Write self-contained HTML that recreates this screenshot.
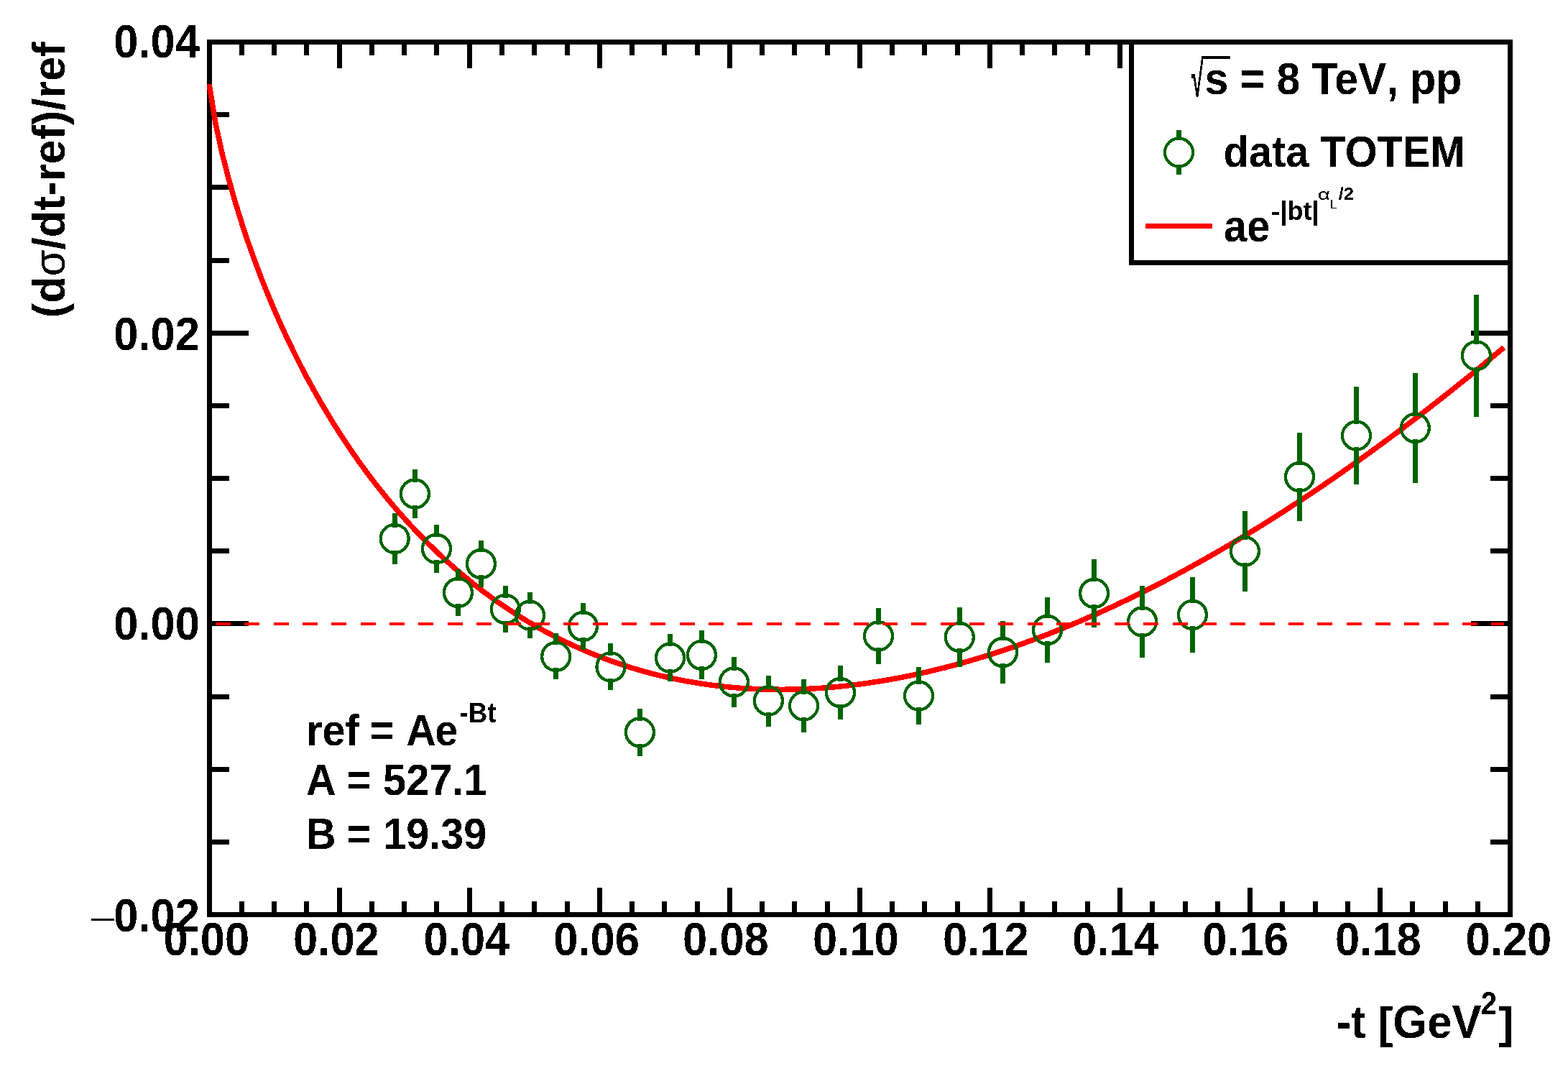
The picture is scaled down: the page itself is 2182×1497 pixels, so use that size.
<!DOCTYPE html>
<html lang="en"><head><meta charset="utf-8"><title>TOTEM 8 TeV pp: (dσ/dt-ref)/ref vs -t</title>
<style>
html,body{margin:0;padding:0;background:#fff;}
body{width:2182px;height:1497px;overflow:hidden;}
svg{display:block;}
text{white-space:pre;}
</style></head><body>
<svg width="2182" height="1497" viewBox="0 0 2182 1497">
<rect x="0" y="0" width="2182" height="1497" fill="#fff"/>
<g id="axes" shape-rendering="crispEdges" fill="#000">
<rect x="288" y="55" width="1817" height="7"/>
<rect x="288" y="1269" width="1817" height="7"/>
<rect x="288" y="55" width="7" height="1221"/>
<rect x="2098" y="55" width="7" height="1221"/>
<rect x="333" y="1254" width="7" height="15"/>
<rect x="333" y="62" width="7" height="15"/>
<rect x="378" y="1254" width="7" height="15"/>
<rect x="378" y="62" width="7" height="15"/>
<rect x="423" y="1254" width="7" height="15"/>
<rect x="423" y="62" width="7" height="15"/>
<rect x="469" y="1235" width="7" height="34"/>
<rect x="469" y="62" width="7" height="33"/>
<rect x="514" y="1254" width="7" height="15"/>
<rect x="514" y="62" width="7" height="15"/>
<rect x="559" y="1254" width="7" height="15"/>
<rect x="559" y="62" width="7" height="15"/>
<rect x="604" y="1254" width="7" height="15"/>
<rect x="604" y="62" width="7" height="15"/>
<rect x="650" y="1235" width="7" height="34"/>
<rect x="650" y="62" width="7" height="33"/>
<rect x="695" y="1254" width="7" height="15"/>
<rect x="695" y="62" width="7" height="15"/>
<rect x="740" y="1254" width="7" height="15"/>
<rect x="740" y="62" width="7" height="15"/>
<rect x="786" y="1254" width="7" height="15"/>
<rect x="786" y="62" width="7" height="15"/>
<rect x="831" y="1235" width="7" height="34"/>
<rect x="831" y="62" width="7" height="33"/>
<rect x="876" y="1254" width="7" height="15"/>
<rect x="876" y="62" width="7" height="15"/>
<rect x="921" y="1254" width="7" height="15"/>
<rect x="921" y="62" width="7" height="15"/>
<rect x="967" y="1254" width="7" height="15"/>
<rect x="967" y="62" width="7" height="15"/>
<rect x="1012" y="1235" width="7" height="34"/>
<rect x="1012" y="62" width="7" height="33"/>
<rect x="1057" y="1254" width="7" height="15"/>
<rect x="1057" y="62" width="7" height="15"/>
<rect x="1102" y="1254" width="7" height="15"/>
<rect x="1102" y="62" width="7" height="15"/>
<rect x="1148" y="1254" width="7" height="15"/>
<rect x="1148" y="62" width="7" height="15"/>
<rect x="1193" y="1235" width="7" height="34"/>
<rect x="1193" y="62" width="7" height="33"/>
<rect x="1238" y="1254" width="7" height="15"/>
<rect x="1238" y="62" width="7" height="15"/>
<rect x="1283" y="1254" width="7" height="15"/>
<rect x="1283" y="62" width="7" height="15"/>
<rect x="1329" y="1254" width="7" height="15"/>
<rect x="1329" y="62" width="7" height="15"/>
<rect x="1374" y="1235" width="7" height="34"/>
<rect x="1374" y="62" width="7" height="33"/>
<rect x="1419" y="1254" width="7" height="15"/>
<rect x="1419" y="62" width="7" height="15"/>
<rect x="1464" y="1254" width="7" height="15"/>
<rect x="1464" y="62" width="7" height="15"/>
<rect x="1510" y="1254" width="7" height="15"/>
<rect x="1510" y="62" width="7" height="15"/>
<rect x="1555" y="1235" width="7" height="34"/>
<rect x="1555" y="62" width="7" height="33"/>
<rect x="1600" y="1254" width="7" height="15"/>
<rect x="1600" y="62" width="7" height="15"/>
<rect x="1646" y="1254" width="7" height="15"/>
<rect x="1646" y="62" width="7" height="15"/>
<rect x="1691" y="1254" width="7" height="15"/>
<rect x="1691" y="62" width="7" height="15"/>
<rect x="1736" y="1235" width="7" height="34"/>
<rect x="1736" y="62" width="7" height="33"/>
<rect x="1781" y="1254" width="7" height="15"/>
<rect x="1781" y="62" width="7" height="15"/>
<rect x="1827" y="1254" width="7" height="15"/>
<rect x="1827" y="62" width="7" height="15"/>
<rect x="1872" y="1254" width="7" height="15"/>
<rect x="1872" y="62" width="7" height="15"/>
<rect x="1917" y="1235" width="7" height="34"/>
<rect x="1917" y="62" width="7" height="33"/>
<rect x="1962" y="1254" width="7" height="15"/>
<rect x="1962" y="62" width="7" height="15"/>
<rect x="2008" y="1254" width="7" height="15"/>
<rect x="2008" y="62" width="7" height="15"/>
<rect x="2053" y="1254" width="7" height="15"/>
<rect x="2053" y="62" width="7" height="15"/>
<rect x="295" y="156" width="24" height="7"/>
<rect x="2074" y="156" width="24" height="7"/>
<rect x="295" y="257" width="24" height="7"/>
<rect x="2074" y="257" width="24" height="7"/>
<rect x="295" y="359" width="24" height="7"/>
<rect x="2074" y="359" width="24" height="7"/>
<rect x="295" y="460" width="51" height="7"/>
<rect x="2047" y="460" width="51" height="7"/>
<rect x="295" y="561" width="24" height="7"/>
<rect x="2074" y="561" width="24" height="7"/>
<rect x="295" y="662" width="24" height="7"/>
<rect x="2074" y="662" width="24" height="7"/>
<rect x="295" y="763" width="24" height="7"/>
<rect x="2074" y="763" width="24" height="7"/>
<rect x="295" y="864" width="51" height="7"/>
<rect x="2047" y="864" width="51" height="7"/>
<rect x="295" y="966" width="24" height="7"/>
<rect x="2074" y="966" width="24" height="7"/>
<rect x="295" y="1067" width="24" height="7"/>
<rect x="2074" y="1067" width="24" height="7"/>
<rect x="295" y="1168" width="24" height="7"/>
<rect x="2074" y="1168" width="24" height="7"/>
</g>
<polyline id="fit" points="291.1,117.2 300.2,173.1 309.2,213.9 318.3,249.3 327.3,281.1 336.4,310.3 345.4,337.4 354.5,362.8 363.5,386.7 372.6,409.3 381.6,430.8 390.7,451.3 399.7,470.9 408.8,489.6 417.8,507.6 426.9,524.9 436.0,541.4 445.0,557.4 454.1,572.8 463.1,587.6 472.2,601.9 481.2,615.7 490.3,629.1 499.3,642.0 508.4,654.5 517.4,666.5 526.5,678.2 535.5,689.5 544.6,700.4 553.6,711.0 562.7,721.3 571.8,731.2 580.8,740.8 589.9,750.2 598.9,759.2 608.0,768.0 617.0,776.4 626.1,784.6 635.1,792.6 644.2,800.3 653.2,807.8 662.3,815.0 671.3,822.0 680.4,828.7 689.4,835.3 698.5,841.6 707.6,847.7 716.6,853.6 725.7,859.3 734.7,864.8 743.8,870.1 752.8,875.3 761.9,880.2 770.9,885.0 780.0,889.6 789.0,894.0 798.1,898.2 807.1,902.3 816.2,906.2 825.2,910.0 834.3,913.6 843.3,917.0 852.4,920.3 861.5,923.4 870.5,926.4 879.6,929.3 888.6,932.0 897.7,934.5 906.7,937.0 915.8,939.3 924.8,941.4 933.9,943.4 942.9,945.3 952.0,947.1 961.0,948.7 970.1,950.2 979.1,951.6 988.2,952.9 997.3,954.0 1006.3,955.1 1015.4,956.0 1024.4,956.8 1033.5,957.5 1042.5,958.0 1051.6,958.5 1060.6,958.9 1069.7,959.1 1078.7,959.2 1087.8,959.3 1096.8,959.2 1105.9,959.0 1114.9,958.8 1124.0,958.4 1133.1,957.9 1142.1,957.3 1151.2,956.7 1160.2,955.9 1169.3,955.0 1178.3,954.1 1187.4,953.0 1196.4,951.9 1205.5,950.6 1214.5,949.3 1223.6,947.9 1232.6,946.4 1241.7,944.8 1250.7,943.1 1259.8,941.3 1268.9,939.5 1277.9,937.6 1287.0,935.5 1296.0,933.4 1305.1,931.2 1314.1,929.0 1323.2,926.6 1332.2,924.2 1341.3,921.7 1350.3,919.1 1359.4,916.4 1368.4,913.7 1377.5,910.9 1386.5,908.0 1395.6,905.0 1404.7,901.9 1413.7,898.8 1422.8,895.6 1431.8,892.3 1440.9,889.0 1449.9,885.6 1459.0,882.1 1468.0,878.5 1477.1,874.9 1486.1,871.2 1495.2,867.4 1504.2,863.6 1513.3,859.7 1522.3,855.7 1531.4,851.7 1540.5,847.5 1549.5,843.4 1558.6,839.1 1567.6,834.8 1576.7,830.4 1585.7,826.0 1594.8,821.5 1603.8,816.9 1612.9,812.3 1621.9,807.6 1631.0,802.8 1640.0,798.0 1649.1,793.1 1658.1,788.1 1667.2,783.1 1676.2,778.0 1685.3,772.9 1694.4,767.7 1703.4,762.4 1712.5,757.1 1721.5,751.7 1730.6,746.3 1739.6,740.8 1748.7,735.3 1757.7,729.7 1766.8,724.0 1775.8,718.3 1784.9,712.5 1793.9,706.6 1803.0,700.7 1812.0,694.8 1821.1,688.8 1830.2,682.7 1839.2,676.6 1848.3,670.4 1857.3,664.2 1866.4,657.9 1875.4,651.5 1884.5,645.1 1893.5,638.7 1902.6,632.2 1911.6,625.6 1920.7,619.0 1929.7,612.3 1938.8,605.6 1947.8,598.9 1956.9,592.0 1966.0,585.2 1975.0,578.2 1984.1,571.2 1993.1,564.2 2002.2,557.1 2011.2,550.0 2020.3,542.8 2029.3,535.6 2038.4,528.3 2047.4,521.0 2056.5,513.6 2065.5,506.1 2074.6,498.7 2083.6,491.1 2092.7,483.5" fill="none" stroke="#ff0000" stroke-width="7.5" stroke-linejoin="round" shape-rendering="crispEdges"/>
<g id="errors" shape-rendering="crispEdges" fill="#006400">
<rect x="546" y="714" width="7" height="20"/>
<rect x="546" y="766" width="7" height="19"/>
<rect x="574" y="653" width="7" height="18"/>
<rect x="574" y="703" width="7" height="18"/>
<rect x="604" y="730" width="7" height="17"/>
<rect x="604" y="779" width="7" height="18"/>
<rect x="634" y="792" width="7" height="16"/>
<rect x="634" y="840" width="7" height="17"/>
<rect x="666" y="752" width="7" height="16"/>
<rect x="666" y="800" width="7" height="17"/>
<rect x="700" y="815" width="7" height="17"/>
<rect x="700" y="864" width="7" height="16"/>
<rect x="734" y="824" width="7" height="16"/>
<rect x="734" y="872" width="7" height="16"/>
<rect x="770" y="881" width="7" height="16"/>
<rect x="770" y="929" width="7" height="16"/>
<rect x="808" y="839" width="7" height="16"/>
<rect x="808" y="887" width="7" height="17"/>
<rect x="846" y="895" width="7" height="17"/>
<rect x="846" y="944" width="7" height="16"/>
<rect x="887" y="986" width="7" height="17"/>
<rect x="887" y="1035" width="7" height="17"/>
<rect x="929" y="882" width="7" height="17"/>
<rect x="929" y="931" width="7" height="17"/>
<rect x="973" y="877" width="7" height="18"/>
<rect x="973" y="927" width="7" height="18"/>
<rect x="1018" y="914" width="7" height="19"/>
<rect x="1018" y="965" width="7" height="19"/>
<rect x="1066" y="940" width="7" height="19"/>
<rect x="1066" y="991" width="7" height="20"/>
<rect x="1115" y="945" width="7" height="21"/>
<rect x="1115" y="998" width="7" height="21"/>
<rect x="1166" y="926" width="7" height="22"/>
<rect x="1166" y="980" width="7" height="21"/>
<rect x="1219" y="846" width="7" height="23"/>
<rect x="1219" y="901" width="7" height="23"/>
<rect x="1275" y="928" width="7" height="24"/>
<rect x="1275" y="984" width="7" height="24"/>
<rect x="1332" y="845" width="7" height="25"/>
<rect x="1332" y="902" width="7" height="26"/>
<rect x="1392" y="864" width="7" height="27"/>
<rect x="1392" y="923" width="7" height="28"/>
<rect x="1454" y="831" width="7" height="29"/>
<rect x="1454" y="892" width="7" height="30"/>
<rect x="1519" y="778" width="7" height="31"/>
<rect x="1519" y="841" width="7" height="32"/>
<rect x="1586" y="815" width="7" height="34"/>
<rect x="1586" y="881" width="7" height="34"/>
<rect x="1656" y="803" width="7" height="36"/>
<rect x="1656" y="871" width="7" height="37"/>
<rect x="1729" y="711" width="7" height="40"/>
<rect x="1729" y="783" width="7" height="40"/>
<rect x="1805" y="602" width="7" height="45"/>
<rect x="1805" y="679" width="7" height="46"/>
<rect x="1884" y="538" width="7" height="52"/>
<rect x="1884" y="622" width="7" height="52"/>
<rect x="1966" y="519" width="7" height="60"/>
<rect x="1966" y="611" width="7" height="61"/>
<rect x="2051" y="410" width="7" height="69"/>
<rect x="2051" y="511" width="7" height="69"/>
</g>
<g id="markers" fill="none" stroke="#006400" stroke-width="4.3" shape-rendering="crispEdges">
<circle cx="549.2" cy="749.5" r="19.5"/>
<circle cx="577.4" cy="687.0" r="19.5"/>
<circle cx="607.5" cy="763.4" r="19.5"/>
<circle cx="637.4" cy="824.5" r="19.5"/>
<circle cx="669.4" cy="784.5" r="19.5"/>
<circle cx="703.3" cy="847.5" r="19.5"/>
<circle cx="737.5" cy="856.2" r="19.5"/>
<circle cx="773.7" cy="913.4" r="19.5"/>
<circle cx="811.4" cy="871.4" r="19.5"/>
<circle cx="850.0" cy="927.9" r="19.5"/>
<circle cx="890.4" cy="1018.9" r="19.5"/>
<circle cx="932.5" cy="915.2" r="19.5"/>
<circle cx="976.4" cy="911.4" r="19.5"/>
<circle cx="1021.4" cy="949.0" r="19.5"/>
<circle cx="1069.4" cy="975.0" r="19.5"/>
<circle cx="1118.5" cy="982.0" r="19.5"/>
<circle cx="1169.5" cy="963.6" r="19.5"/>
<circle cx="1222.5" cy="884.9" r="19.5"/>
<circle cx="1278.5" cy="968.0" r="19.5"/>
<circle cx="1335.3" cy="886.4" r="19.5"/>
<circle cx="1395.5" cy="907.5" r="19.5"/>
<circle cx="1457.5" cy="876.5" r="19.5"/>
<circle cx="1522.6" cy="825.4" r="19.5"/>
<circle cx="1589.6" cy="864.9" r="19.5"/>
<circle cx="1659.4" cy="855.4" r="19.5"/>
<circle cx="1732.4" cy="766.9" r="19.5"/>
<circle cx="1808.5" cy="663.4" r="19.5"/>
<circle cx="1887.5" cy="606.0" r="19.5"/>
<circle cx="1969.3" cy="595.5" r="19.5"/>
<circle cx="2054.4" cy="494.8" r="19.5"/>
</g>
<g id="zero" shape-rendering="crispEdges" fill="#ff0000">
<rect x="300" y="866" width="21" height="4"/>
<rect x="340" y="866" width="21" height="4"/>
<rect x="381" y="866" width="21" height="4"/>
<rect x="421" y="866" width="21" height="4"/>
<rect x="461" y="866" width="21" height="4"/>
<rect x="502" y="866" width="21" height="4"/>
<rect x="542" y="866" width="21" height="4"/>
<rect x="582" y="866" width="21" height="4"/>
<rect x="623" y="866" width="21" height="4"/>
<rect x="663" y="866" width="21" height="4"/>
<rect x="704" y="866" width="21" height="4"/>
<rect x="744" y="866" width="21" height="4"/>
<rect x="784" y="866" width="21" height="4"/>
<rect x="825" y="866" width="21" height="4"/>
<rect x="865" y="866" width="21" height="4"/>
<rect x="905" y="866" width="21" height="4"/>
<rect x="946" y="866" width="21" height="4"/>
<rect x="986" y="866" width="21" height="4"/>
<rect x="1026" y="866" width="21" height="4"/>
<rect x="1067" y="866" width="21" height="4"/>
<rect x="1107" y="866" width="21" height="4"/>
<rect x="1147" y="866" width="21" height="4"/>
<rect x="1188" y="866" width="21" height="4"/>
<rect x="1228" y="866" width="21" height="4"/>
<rect x="1268" y="866" width="21" height="4"/>
<rect x="1309" y="866" width="21" height="4"/>
<rect x="1349" y="866" width="21" height="4"/>
<rect x="1389" y="866" width="21" height="4"/>
<rect x="1430" y="866" width="21" height="4"/>
<rect x="1470" y="866" width="21" height="4"/>
<rect x="1510" y="866" width="21" height="4"/>
<rect x="1551" y="866" width="21" height="4"/>
<rect x="1591" y="866" width="21" height="4"/>
<rect x="1632" y="866" width="21" height="4"/>
<rect x="1672" y="866" width="21" height="4"/>
<rect x="1712" y="866" width="21" height="4"/>
<rect x="1753" y="866" width="21" height="4"/>
<rect x="1793" y="866" width="21" height="4"/>
<rect x="1833" y="866" width="21" height="4"/>
<rect x="1874" y="866" width="21" height="4"/>
<rect x="1914" y="866" width="21" height="4"/>
<rect x="1954" y="866" width="21" height="4"/>
<rect x="1995" y="866" width="21" height="4"/>
<rect x="2035" y="866" width="21" height="4"/>
<rect x="2075" y="866" width="18" height="4"/>
</g>
<g id="legend" shape-rendering="crispEdges">
<rect x="1571" y="55" width="534" height="314" fill="#fff"/>
<g fill="#000">
<rect x="1571" y="55" width="534" height="7"/>
<rect x="1571" y="362" width="534" height="7"/>
<rect x="1571" y="55" width="7" height="314"/>
<rect x="2098" y="55" width="7" height="314"/>
</g>
<rect x="1594" y="311" width="93" height="7" fill="#ff0000"/>
<rect x="1637" y="181" width="7" height="12" fill="#006400"/>
<rect x="1637" y="231" width="7" height="12" fill="#006400"/>
<circle cx="1640.5" cy="212.0" r="19.5" fill="none" stroke="#006400" stroke-width="4.3"/>
</g>
<defs><filter id="crisp" filterUnits="userSpaceOnUse" x="0" y="0" width="2182" height="1497" color-interpolation-filters="sRGB"><feComponentTransfer><feFuncA type="discrete" tableValues="0 1"/></feComponentTransfer></filter></defs>
<g id="labels" font-family="'Liberation Sans','DejaVu Sans',sans-serif" fill="#000" filter="url(#crisp)">
<text transform="translate(158.3,80) scale(1,1.055)" font-size="61.5" font-weight="700">0.04</text>
<text transform="translate(158.3,486.9) scale(1,1.055)" font-size="61.5" font-weight="700">0.02</text>
<text transform="translate(158.3,890.1) scale(1,1.055)" font-size="61.5" font-weight="700">0.00</text>
<text transform="translate(123.7,1293.9) scale(1,0.65)" font-size="66" font-weight="400">−</text>
<text transform="translate(158.3,1296) scale(1,1.055)" font-size="61.5" font-weight="700">0.02</text>
<text transform="translate(227.5,1329) scale(1,1.055)" font-size="61.5" font-weight="700">0.00</text>
<text transform="translate(408.1,1329) scale(1,1.055)" font-size="61.5" font-weight="700">0.02</text>
<text transform="translate(589.6,1329) scale(1,1.055)" font-size="61.5" font-weight="700">0.04</text>
<text transform="translate(770.3,1329) scale(1,1.055)" font-size="61.5" font-weight="700">0.06</text>
<text transform="translate(950.1,1329) scale(1,1.055)" font-size="61.5" font-weight="700">0.08</text>
<text transform="translate(1131.1,1329) scale(1,1.055)" font-size="61.5" font-weight="700">0.10</text>
<text transform="translate(1312.1,1329) scale(1,1.055)" font-size="61.5" font-weight="700">0.12</text>
<text transform="translate(1492.2,1329) scale(1,1.055)" font-size="61.5" font-weight="700">0.14</text>
<text transform="translate(1673.3,1329) scale(1,1.055)" font-size="61.5" font-weight="700">0.16</text>
<text transform="translate(1858.1,1329) scale(1,1.055)" font-size="61.5" font-weight="700">0.18</text>
<text transform="translate(2039.6,1329) scale(1,1.055)" font-size="61.5" font-weight="700">0.20</text>
<text transform="translate(1859.5,1443.9) scale(1,1.06)" font-size="61.7" font-weight="700">-t</text>
<text transform="translate(1917.7,1443.9) scale(1,0.99)" font-size="61.7" font-weight="700">[</text>
<text transform="translate(1938.3,1443.9) scale(1,1.06)" font-size="61.7" font-weight="700">GeV</text>
<text transform="translate(2060.8,1410.8) scale(1,1.11)" font-size="40" font-weight="700">2</text>
<text transform="translate(2085.4,1443.9) scale(1,0.99)" font-size="61.7" font-weight="700">]</text>
<text transform="translate(89.5,442.2) rotate(-90) scale(1,1.03)" font-size="61.2" font-weight="700">(d<tspan font-weight="400" font-size="60">σ</tspan>/dt-ref)/ref</text>
<text transform="translate(1658,133.8) scale(0.515,1.177)" font-size="60" font-weight="700">√</text>
<text transform="translate(1676.4,131) scale(1,1.056)" font-size="59" font-weight="700">s = 8 TeV<tspan dx="0">, pp</tspan></text>
<text transform="translate(1702.6,232.2) scale(1,1.057)" font-size="57.8" font-weight="700">data TOTEM</text>
<text transform="translate(1703,335.6) scale(1,1.08)" font-size="57.8" font-weight="700">ae</text>
<text transform="translate(1769.1,306.2) scale(1,1.02)" font-size="36.3" font-weight="700">-|bt|</text>
<text transform="translate(1833.7,277.7) scale(1.36,1)" font-size="21.8" font-weight="400">α</text>
<text transform="translate(1850.5,290) scale(1.05,1)" font-size="17.4" font-weight="400">L</text>
<text transform="translate(1862.7,277.9) scale(1.03,1)" font-size="24.8" font-weight="700">/2</text>
<text transform="translate(426,1037) scale(1,1.064)" font-size="57.6" font-weight="700">ref <tspan dx="-1.2">= </tspan><tspan dx="1.2">A</tspan><tspan dx="-1.5">e</tspan></text>
<text transform="translate(639.4,1004.9) scale(1,1.065)" font-size="36.9" font-weight="700">-Bt</text>
<text transform="translate(426,1106.3) scale(1,1.064)" font-size="57.6" font-weight="700">A <tspan dx="1.1">= </tspan><tspan dx="0.9">527.1</tspan></text>
<text transform="translate(426,1180.8) scale(1,1.064)" font-size="57.6" font-weight="700">B <tspan dx="-1.2">= </tspan><tspan dx="1.2">19.39</tspan></text>
</g>
<rect x="1673" y="78" width="39" height="4" fill="#000" shape-rendering="crispEdges"/>
</svg>
</body></html>
